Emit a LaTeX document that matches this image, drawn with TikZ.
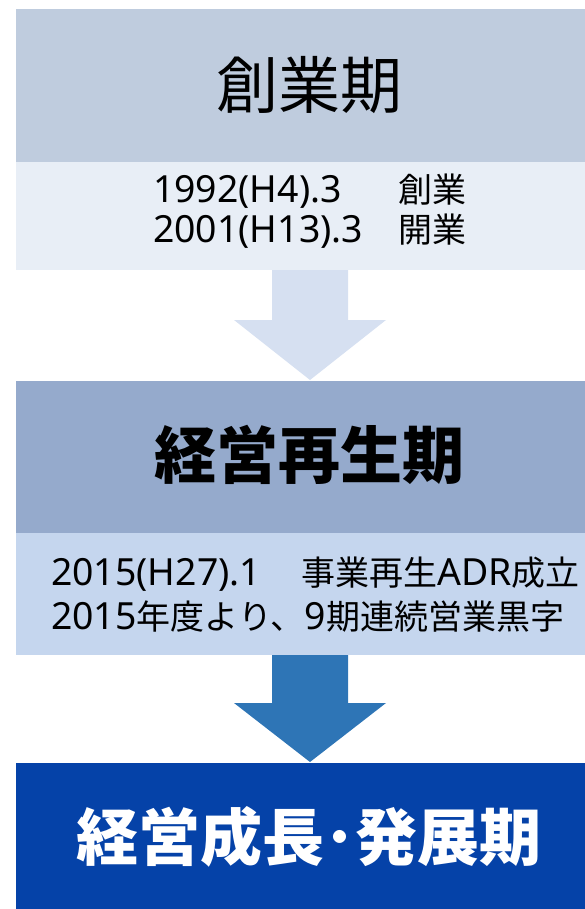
\documentclass[tikz,border=0pt]{standalone}
\usepackage{fontspec}
\setmainfont{Noto Sans CJK JP}
\newfontfamily\lat{Noto Sans}[Scale=1.1]
\definecolor{hA}{RGB}{191,204,222}
\definecolor{bA}{RGB}{232,238,246}
\definecolor{arA}{RGB}{214,224,241}
\definecolor{hB}{RGB}{149,170,204}
\definecolor{bB}{RGB}{197,214,238}
\definecolor{arB}{RGB}{46,117,182}
\definecolor{hC}{RGB}{5,66,168}
\begin{document}
\begin{tikzpicture}[x=1pt,y=-1pt,
  band/.style={rectangle,inner sep=0pt,minimum width=569pt,anchor=north west},
  title/.style={inner sep=0pt,font=\fontsize{62}{64}\selectfont},
  body/.style={inner sep=0pt,anchor=west,align=left}]
\useasboundingbox (0,0) rectangle (585,909);
% stage 1
\node[band,fill=hA,minimum height=153pt] (h1) at (16,9) {};
\node[band,fill=bA,minimum height=108pt] (b1) at (16,162) {};
\node[title] (t1) at (309,85) {創業期};
\node[body,font=\fontsize{34}{38}\selectfont] (d1) at (153,214) {\begin{tabular}{@{}l@{\hspace{35pt}}l@{}}{\lat 1992(H4).3}&創業\\{\lat 2001(H13).3}&開業\end{tabular}};
% arrow 1
\fill[arA] (272,270) -- (348,270) -- (348,320) -- (386,320) -- (310,380) -- (234,320) -- (272,320) -- cycle;
% stage 2
\node[band,fill=hB,minimum height=152pt] (h2) at (16,381) {};
\node[band,fill=bB,minimum height=122pt] (b2) at (16,533) {};
\node[title,font=\fontsize{62}{64}\selectfont\bfseries] (t2) at (309,455) {経営再生期};
\node[body,font=\fontsize{34}{44}\selectfont] (d2) at (51,595) {{\lat 2015(H27).1}\hspace{40pt}事業再生{\lat ADR}成立\\{\lat 2015}年度より、{\lat 9}期連続営業黒字};
% arrow 2
\fill[arB] (272,655) -- (348,655) -- (348,703) -- (386,703) -- (310,762) -- (234,703) -- (272,703) -- cycle;
% stage 3
\node[band,fill=hC,minimum height=146pt] (h3) at (16,763) {};
\node[title,text=white,font=\fontsize{62}{64}\selectfont\bfseries] (t3) at (309,837) {経営成長･発展期};
\end{tikzpicture}
\end{document}
